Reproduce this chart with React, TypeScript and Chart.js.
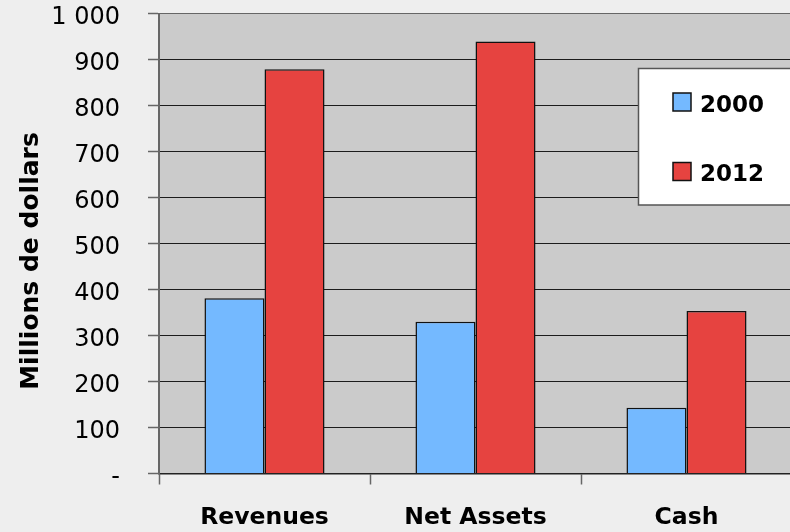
import { useEffect, useRef } from "react";
import { Chart, registerables } from "chart.js";

Chart.register(...registerables);

const categories = ["Revenues", "Net Assets", "Cash"];
const seriesLabels = ["2000", "2012"];
const values2000 = [381, 330, 143];
const values2012 = [879, 939, 353];
const yTickLabels = ["-", "100", "200", "300", "400", "500", "600", "700", "800", "900", "1 000"];
const yAxisTitle = "Millions de dollars";

const BLUE = "#74b9ff";
const RED = "#e64340";
const FONT = "'DejaVu Sans', sans-serif";

const decorPlugin = {
  id: "decor",
  beforeDraw(chart: any) {
    const { ctx, chartArea, width, height } = chart;
    ctx.save();
    ctx.fillStyle = "#eeeeee";
    ctx.fillRect(0, 0, width, height);
    ctx.fillStyle = "#cbcbcb";
    ctx.fillRect(chartArea.left, chartArea.top, chartArea.right - chartArea.left, chartArea.bottom - chartArea.top);
    ctx.restore();
  },
  afterDraw(chart: any) {
    const { ctx } = chart;
    ctx.save();
    // legend box
    ctx.fillStyle = "#ffffff";
    ctx.fillRect(638.5, 68.5, 200, 136.5);
    ctx.strokeStyle = "#555555";
    ctx.lineWidth = 1.5;
    ctx.strokeRect(638.5, 68.5, 200, 136.5);
    const items = chart.data.datasets.map((d: any) => ({ label: d.label, color: d.backgroundColor }));
    const rowY = [102, 171.5];
    items.forEach((it: any, i: number) => {
      const cy = rowY[i];
      ctx.fillStyle = it.color;
      ctx.fillRect(673, cy - 9, 18, 18);
      ctx.strokeStyle = "#111111";
      ctx.lineWidth = 1.5;
      ctx.strokeRect(673, cy - 9, 18, 18);
      ctx.fillStyle = "#000000";
      ctx.font = `bold 23px ${FONT}`;
      ctx.textAlign = "left";
      ctx.textBaseline = "middle";
      ctx.fillText(it.label, 700, cy + 4);
    });
    // y axis title
    ctx.translate(31, 261);
    ctx.rotate(-Math.PI / 2);
    ctx.font = `bold 25px ${FONT}`;
    ctx.fillStyle = "#000000";
    ctx.textAlign = "center";
    ctx.textBaseline = "middle";
    ctx.fillText(yAxisTitle, 0, 0);
    ctx.restore();
  },
};

export default function App() {
  const ref = useRef<HTMLCanvasElement | null>(null);

  useEffect(() => {
    document.body.style.margin = "0";
    const canvas = ref.current;
    if (!canvas) return;
    const chart = new Chart(canvas, {
      type: "bar",
      data: {
        labels: categories,
        datasets: [
          {
            label: seriesLabels[0],
            data: values2000,
            backgroundColor: BLUE,
            borderColor: "#111111",
            borderWidth: 1.5,
            categoryPercentage: 0.569,
            barPercentage: 1,
          },
          {
            label: seriesLabels[1],
            data: values2012,
            backgroundColor: RED,
            borderColor: "#111111",
            borderWidth: 1.5,
            categoryPercentage: 0.569,
            barPercentage: 1,
          },
        ],
      },
      options: {
        responsive: false,
        animation: false,
        layout: { padding: { top: 0, left: 0, right: 0, bottom: 0 } },
        plugins: {
          legend: { display: false },
          tooltip: { enabled: false },
          title: { display: false },
        },
        scales: {
          x: {
            type: "category",
            offset: true,
            grid: {
              offset: true,
              drawOnChartArea: false,
              drawTicks: true,
              tickLength: 11,
              tickColor: "#666666",
              tickWidth: 1.5,
            },
            border: { display: true, color: "#222222", width: 1.5 },
            ticks: {
              color: "#000000",
              font: { family: FONT, size: 23.5, weight: "bold" },
              padding: 19,
              maxRotation: 0,
              autoSkip: false,
            },
            afterFit(scale: any) {
              scale.height = 58.5;
            },
          },
          y: {
            min: 0,
            max: 1000,
            grid: {
              color: (c: any) => (c.tick && c.tick.value === 1000 ? "#666666" : "#1c1c1c"),
              lineWidth: 1,
              drawTicks: true,
              tickLength: 11,
              tickColor: "#666666",
              tickWidth: 1.5,
            },
            border: { display: true, color: "#666666", width: 2 },
            ticks: {
              stepSize: 100,
              color: "#000000",
              font: { family: FONT, size: 24, lineHeight: 1 },
              padding: 28,
              labelOffset: 4,
              callback: (_v: any, i: number) => yTickLabels[i],
            },
            afterFit(scale: any) {
              scale.width = 159;
              scale.paddingTop = 13.5;
              scale.paddingBottom = 0;
            },
          },
        },
      },
      plugins: [decorPlugin],
    } as any);
    return () => chart.destroy();
  }, []);

  return (
    <div style={{ position: "fixed", left: 0, top: 0, width: 790, height: 532, overflow: "hidden", background: "#eeeeee" }}>
      <canvas ref={ref} width={792} height={532} style={{ display: "block", width: 792, height: 532 }} />
    </div>
  );
}
